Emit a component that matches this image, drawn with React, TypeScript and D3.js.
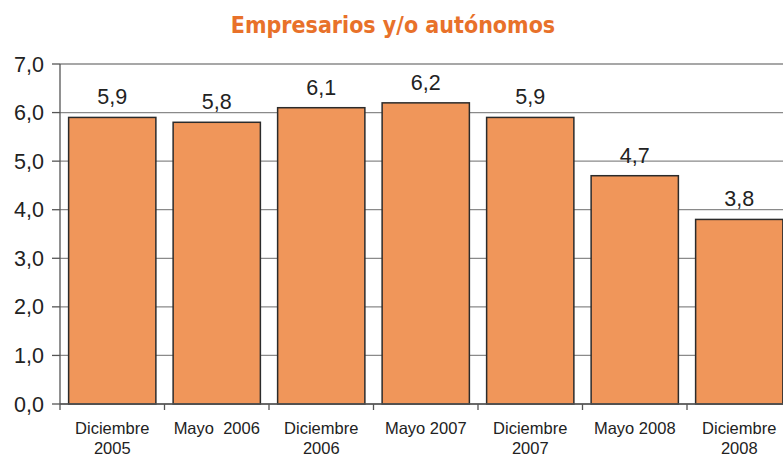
import React from "react";
import * as d3 from "d3";

const title = "Empresarios y/o autónomos";
const categories = [
  ["Diciembre", "2005"],
  ["Mayo  2006"],
  ["Diciembre", "2006"],
  ["Mayo 2007"],
  ["Diciembre", "2007"],
  ["Mayo 2008"],
  ["Diciembre", "2008"],
];
const values = [5.9, 5.8, 6.1, 6.2, 5.9, 4.7, 3.8];
const yTicks = [0, 1, 2, 3, 4, 5, 6, 7];

const W = 783;
const H = 456;
const left = 60;
const top = 64;
const bottom = 404;
const step = 104.5;

export default function App() {
  const ids = categories.map((_, i) => String(i));
  const x = d3
    .scaleBand<string>()
    .domain(ids)
    .range([left, left + step * ids.length])
    .paddingInner(0.165)
    .paddingOuter(0.0825);
  const y = d3.scaleLinear().domain([0, 7]).range([bottom, top]);
  const fmt = (v: number) => v.toFixed(1).replace(".", ",");
  const font = "Liberation Sans, Arial, sans-serif";

  return (
    <svg
      width={W}
      height={H}
      style={{ position: "absolute", left: 0, top: 0, background: "#fff" }}
    >
      <text
        x={393}
        y={33}
        textAnchor="middle"
        fontFamily="'DejaVu Sans Condensed', 'DejaVu Sans', sans-serif"
        fontWeight="bold"
        fontSize={23}
        fill="#E8712A"
      >
        {title}
      </text>
      {yTicks.map((t) => (
        <g key={t}>
          <line x1={left} x2={W} y1={y(t)} y2={y(t)} stroke="#8a8a8a" strokeWidth={1.3} />
          <line x1={left - 8} x2={left} y1={y(t)} y2={y(t)} stroke="#555" strokeWidth={1.3} />
          <text
            x={44}
            y={y(t) + 7.5}
            textAnchor="end"
            fontFamily={font}
            fontSize={21.5}
            fill="#222"
          >
            {fmt(t)}
          </text>
        </g>
      ))}
      <line x1={left} x2={left} y1={top} y2={bottom} stroke="#555" strokeWidth={1.3} />
      {values.map((v, i) => (
        <g key={i}>
          <rect
            x={x(String(i))!}
            y={y(v)}
            width={x.bandwidth()}
            height={bottom - y(v)}
            fill="#F0965A"
            stroke="#2b2b2b"
            strokeWidth={1.5}
          />
          <text
            x={x(String(i))! + x.bandwidth() / 2}
            y={y(v) - 13}
            textAnchor="middle"
            fontFamily={font}
            fontSize={21.5}
            fill="#222"
          >
            {fmt(v)}
          </text>
        </g>
      ))}
      <line x1={left} x2={W} y1={bottom} y2={bottom} stroke="#555" strokeWidth={1.5} />
      {ids.map((id, i) => (
        <line
          key={"t" + i}
          x1={left + step * i}
          x2={left + step * i}
          y1={bottom}
          y2={bottom + 6}
          stroke="#555"
          strokeWidth={1.3}
        />
      ))}
      {categories.map((lines, i) => (
        <text
          key={"c" + i}
          x={x(String(i))! + x.bandwidth() / 2}
          y={434}
          textAnchor="middle"
          fontFamily={font}
          fontSize={16.5}
          fill="#222"
          style={{ whiteSpace: "pre" }}
        >
          {lines.map((l, j) => (
            <tspan key={j} x={x(String(i))! + x.bandwidth() / 2} dy={j === 0 ? 0 : 19.5}>
              {l}
            </tspan>
          ))}
        </text>
      ))}
    </svg>
  );
}
